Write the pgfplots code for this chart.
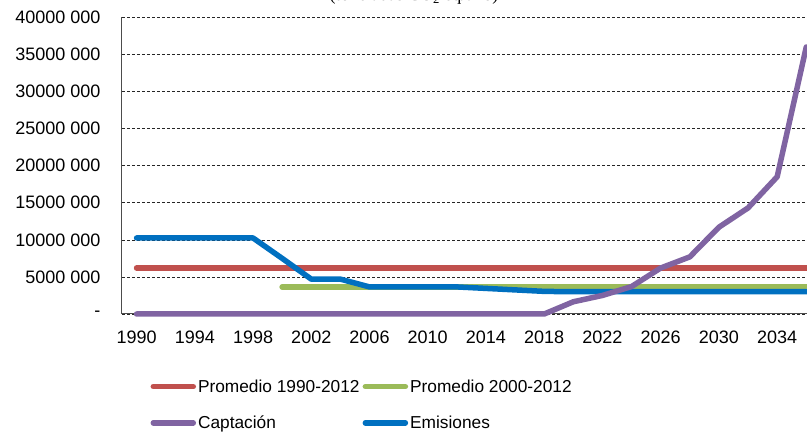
\documentclass[border=0pt]{standalone}
\usepackage{fontspec}
\setmainfont{Liberation Sans}
\newfontfamily\seriffont{Liberation Serif}
\usepackage{pgfplots}
\pgfplotsset{compat=1.18}

\definecolor{cRed}{HTML}{C0504D}
\definecolor{cGreen}{HTML}{9BBB59}
\definecolor{cPurple}{HTML}{8064A2}
\definecolor{cBlue}{HTML}{0070C0}

\begin{document}
\begin{tikzpicture}[x=1pt,y=1pt]
\useasboundingbox (0,0) rectangle (807,434);
% title, cut off at the top edge as in the source
\node[anchor=base, inner sep=0pt, font=\seriffont\fontsize{18}{20}\selectfont] at (414,433.5) {(toneladas CO\textsubscript{2} eq/año)};
\begin{axis}[
    at={(122pt,120pt)}, anchor=south west,
    width=685pt, height=296.7pt, scale only axis,
    xmin=1989, xmax=2036.05,
    ymin=0, ymax=40000000,
    clip=false,
    axis lines*=left,
    axis line style={draw=black!70, line width=1pt},
    major tick length=0pt,
    xtick={1990,1994,1998,2002,2006,2010,2014,2018,2022,2026,2030,2034},
    xticklabels={1990,1994,1998,2002,2006,2010,2014,2018,2022,2026,2030,2034},
    ytick={0,5000000,10000000,15000000,20000000,25000000,30000000,35000000,40000000},
    yticklabels={-,5000 000,10000 000,15000 000,20000 000,25000 000,30000 000,35000 000,40000 000},
    scaled y ticks=false,
    tick label style={font=\fontsize{18}{20}\selectfont},
    yticklabel style={xshift=-18pt},
    xticklabel style={yshift=-13pt},
    ymajorgrids=true,
    grid style={densely dashed, black!85, line width=0.6pt},
    every axis plot/.append style={line width=5.5pt, line cap=round, line join=round},
    legend columns=2,
    legend cell align=left,
    legend image code/.code={\draw[#1, line cap=round] (0pt,0pt) -- (40pt,0pt);},
    legend style={at={(0.037,-0.207)}, anchor=north west, draw=none, fill=none,
        font=\fontsize{17.3}{20}\selectfont, row sep=18pt,
        /tikz/every even column/.append style={column sep=1pt}},
]
\addplot[cRed, forget plot] coordinates {(1990,6200000) (2036,6200000)};
\addplot[cGreen, forget plot] coordinates {(2000,3650000) (2036,3650000)};
\addplot[cBlue, forget plot] coordinates {
    (1990,10250000) (1992,10250000) (1994,10250000) (1996,10250000) (1998,10250000)
    (2000,7500000) (2002,4700000) (2004,4700000) (2006,3650000) (2008,3650000)
    (2010,3650000) (2012,3650000) (2014,3450000) (2016,3250000) (2018,3050000)
    (2020,3000000) (2022,3000000) (2024,3000000) (2026,3000000) (2028,3000000)
    (2030,3000000) (2032,3000000) (2034,3000000) (2036,3000000)
};
\addplot[cPurple, forget plot] coordinates {
    (1990,0) (1992,0) (1994,0) (1996,0) (1998,0) (2000,0) (2002,0) (2004,0)
    (2006,0) (2008,0) (2010,0) (2012,0) (2014,0) (2016,0) (2018,0)
    (2020,1650000) (2022,2500000) (2024,3700000) (2026,6200000) (2028,7700000)
    (2030,11700000) (2032,14300000) (2034,18500000) (2036,36000000)
};
\addlegendimage{cRed, line width=5.5pt}
\addlegendentry{Promedio 1990-2012}
\addlegendimage{cGreen, line width=5.5pt}
\addlegendentry{Promedio 2000-2012}
\addlegendimage{cPurple, line width=5.5pt}
\addlegendentry{Captación}
\addlegendimage{cBlue, line width=5.5pt}
\addlegendentry{Emisiones}
\end{axis}
\end{tikzpicture}
\end{document}
